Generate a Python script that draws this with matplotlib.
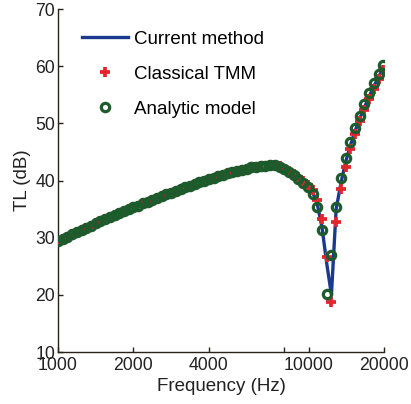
import matplotlib
matplotlib.use("Agg")
import matplotlib.pyplot as plt

plt.rcParams['font.family'] = ['Liberation Sans', 'DejaVu Sans']

# 1/16-octave frequency points (Hz)
freq = [1000, 1044, 1091, 1139, 1189, 1242, 1297, 1354, 1414, 1477,
        1542, 1610, 1682, 1756, 1834, 1915, 2000, 2089, 2181, 2278,
        2378, 2484, 2594, 2709, 2828, 2954, 3084, 3221, 3364, 3513,
        3668, 3830, 4000, 4177, 4362, 4555, 4757, 4967, 5187, 5417,
        5657, 5907, 6169, 6442, 6727, 7025, 7336, 7661, 8000, 8354,
        8724, 9110, 9514, 9935, 10375, 10834, 11314, 11815, 12338, 12884,
        13454, 14050, 14672, 15322, 16000, 16709, 17448, 18221, 19027, 19870]

# transmission loss (dB)
tl_current = [29.4, 29.8, 30.2, 30.6, 31.0, 31.4, 31.7, 32.1, 32.5, 32.9,
              33.2, 33.6, 34.0, 34.3, 34.7, 35.0, 35.3, 35.6, 36.0, 36.3,
              36.6, 36.9, 37.3, 37.6, 37.9, 38.2, 38.5, 38.8, 39.1, 39.4,
              39.7, 40.0, 40.3, 40.5, 40.8, 41.0, 41.3, 41.5, 41.7, 41.9,
              42.1, 42.3, 42.4, 42.5, 42.6, 42.7, 42.7, 42.4, 42.0, 41.5,
              41.0, 40.4, 39.8, 39.0, 38.0, 35.9, 31.8, 25.5, 20.0, 35.0,
              39.5, 43.2, 46.1, 48.6, 50.8, 52.8, 54.7, 56.5, 58.1, 59.7]

tl_tmm = [29.4, 29.8, 30.2, 30.6, 31.0, 31.4, 31.7, 32.1, 32.5, 32.9,
          33.2, 33.6, 34.0, 34.3, 34.7, 35.0, 35.3, 35.6, 36.0, 36.3,
          36.6, 36.9, 37.3, 37.6, 37.9, 38.2, 38.5, 38.8, 39.1, 39.4,
          39.7, 40.0, 40.3, 40.5, 40.8, 41.0, 41.3, 41.5, 41.7, 41.9,
          42.1, 42.3, 42.4, 42.5, 42.6, 42.7, 42.7, 42.5, 42.1, 41.7,
          41.2, 40.6, 40.0, 39.3, 38.3, 36.6, 33.3, 26.7, 18.7, 32.7,
          38.6, 42.4, 45.5, 48.1, 50.4, 52.3, 54.2, 56.0, 57.7, 59.3]

tl_analytic = [29.4, 29.8, 30.2, 30.6, 31.0, 31.4, 31.7, 32.1, 32.5, 32.9,
               33.2, 33.6, 34.0, 34.3, 34.7, 35.0, 35.3, 35.6, 36.0, 36.3,
               36.6, 36.9, 37.3, 37.6, 37.9, 38.2, 38.5, 38.8, 39.1, 39.4,
               39.7, 40.0, 40.3, 40.5, 40.8, 41.0, 41.3, 41.5, 41.7, 41.9,
               42.1, 42.3, 42.4, 42.5, 42.6, 42.7, 42.7, 42.4, 42.0, 41.5,
               40.9, 40.3, 39.6, 38.8, 37.7, 35.3, 31.3, 20.1, 26.9, 35.4,
               40.4, 43.9, 46.7, 49.1, 51.3, 53.4, 55.3, 57.0, 58.6, 60.2]

xticks = [1000, 2000, 4000, 8000, 10000, 20000]
xticklabels = ['1000', '2000', '4000', '', '10000', '20000']

fig = plt.figure(figsize=(4.11, 4.04), dpi=100)
ax = fig.add_axes([0.1411, 0.1287, 0.7932, 0.849])

ax.plot(freq, tl_current, color='#1b3a8f', lw=2.4, label='Current method', zorder=2)
ax.plot(freq, tl_tmm, ls='none', marker='+', ms=7.5, mew=2.7, color='#e3262d',
        label='Classical TMM', zorder=3)
ax.plot(freq, tl_analytic, ls='none', marker='o', ms=6, mew=2.3,
        mec='#1d5a2c', mfc='none', label='Analytic model', zorder=4)

ax.set_xscale('log')
ax.set_xlim(1000, 20000)
ax.set_ylim(10, 70)
ax.set_xticks(xticks)
ax.set_xticklabels(xticklabels)
ax.minorticks_off()
ax.set_yticks(range(10, 71, 10))

for s in ['top', 'right']:
    ax.spines[s].set_visible(False)
for s in ['left', 'bottom']:
    ax.spines[s].set_color('#2a2118')
    ax.spines[s].set_linewidth(1.0)

ax.tick_params(direction='in', length=3.5, width=1, labelsize=12.7, pad=2,
               colors='#2a2118', labelcolor='#222222')
ax.tick_params(axis='x', pad=3.5)

ax.set_xlabel('Frequency (Hz)', fontsize=13.5, color='#222222', labelpad=3)
ax.set_ylabel('TL (dB)', fontsize=13.5, color='#222222', labelpad=3)

leg = ax.legend(loc='upper left', frameon=False, fontsize=13.5,
                handlelength=2.45, handletextpad=0.3, labelspacing=0.95,
                borderaxespad=0.2, bbox_to_anchor=(0.04, 0.97))

fig.savefig('out.png', dpi=100)
